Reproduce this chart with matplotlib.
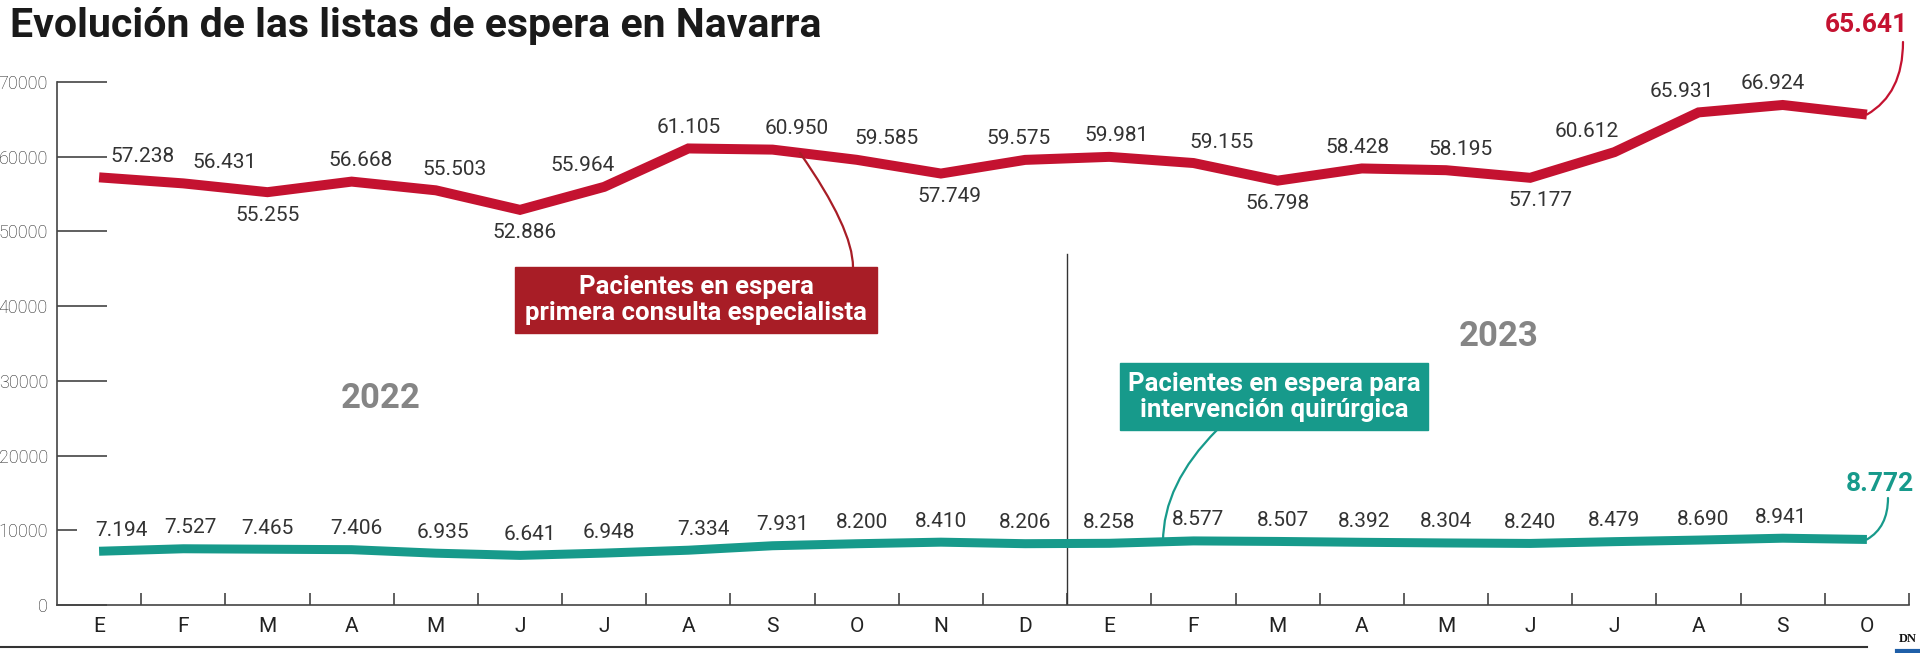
import numpy as np
import matplotlib.pyplot as plt
from matplotlib.lines import Line2D
from matplotlib.patches import Rectangle

# data
months = ["E", "F", "M", "A", "M", "J", "J", "A", "S", "O", "N", "D",
          "E", "F", "M", "A", "M", "J", "J", "A", "S", "O"]
consulta = [57238, 56431, 55255, 56668, 55503, 52886, 55964, 61105, 60950, 59585, 57749, 59575,
            59981, 59155, 56798, 58428, 58195, 57177, 60612, 65931, 66924, 65641]
quirurgica = [7194, 7527, 7465, 7406, 6935, 6641, 6948, 7334, 7931, 8200, 8410, 8206,
              8258, 8577, 8507, 8392, 8304, 8240, 8479, 8690, 8941, 8772]
yticks = [0, 10000, 20000, 30000, 40000, 50000, 60000, 70000]
years = ["2022", "2023"]

# label placement (pixel offsets, by hand)
red_below = [2, 5, 10, 14, 17]
red_dx = [43, 41, 0, 9, 19, 4, -22, 0, 24, 30, 9, -7, 7, 28, 0, -4, 15, 10, -28, -17, -10]
teal_dx = [22, 7, 0, 5, 7, 10, 5, 15, 10, 5, 0, 0, 0, 5, 5, 2, 0, 0, 0, 5, -2]

RED = "#c41230"
RED_BOX = "#a81d26"
TEAL = "#179a8b"
NARROW = ["Liberation Sans Narrow", "Roboto"]
W, H = 1920, 653

def fmt(v):
    return f"{v:,}".replace(",", ".")

def px(v):
    # pixels -> points at dpi 100
    return v * 72 / 100

fig = plt.figure(figsize=(19.2, 6.53), dpi=100)
ax = fig.add_axes([57 / W, 48 / H, 1852 / W, 523 / H])

x = np.arange(len(months))
ax.plot(x, consulta, color=RED, lw=px(10), solid_joinstyle="miter", solid_capstyle="butt", zorder=3)
ax.plot(x, quirurgica, color=TEAL, lw=px(9), solid_joinstyle="round", solid_capstyle="butt", zorder=3)

ax.set_xlim(-0.5, 21.5)
ax.set_ylim(0, 70000)
for s in ["top", "right"]:
    ax.spines[s].set_visible(False)
for s in ["left", "bottom"]:
    ax.spines[s].set_color("#444")
    ax.spines[s].set_linewidth(1.2)

ax.set_yticks(yticks)
ax.set_yticklabels([str(t) for t in yticks], fontsize=13, color="#222", fontweight="light", family="Roboto")
ax.tick_params(axis="y", direction="in", length=px(50), width=1.2, color="#444", pad=px(9))
# the 10000 tick is cut short to leave room for the first label
ax.yaxis.get_major_ticks()[1].tick1line.set_markersize(px(20))

ax.set_xticks(x)
ax.set_xticklabels(months, fontsize=15, color="#222", family="Roboto")
ax.tick_params(axis="x", which="major", length=0, pad=px(12))
ax.set_xticks(list(x[:-1] + 0.5) + [21.5], minor=True)
ax.tick_params(axis="x", which="minor", direction="in", length=px(12), width=1.2, color="#444")

# value labels
for i, v in enumerate(consulta[:-1]):
    dy = -23 if i in red_below else 21
    ax.annotate(fmt(v), (i, v), xytext=(px(red_dx[i]), px(dy)), textcoords="offset points",
                ha="center", va="center", fontsize=15, color="#333", family="Roboto")
for i, v in enumerate(quirurgica[:-1]):
    ax.annotate(fmt(v), (i, v), xytext=(px(teal_dx[i]), px(21)), textcoords="offset points",
                ha="center", va="center", fontsize=15, color="#333", family="Roboto")

# end labels with connectors
ax.text(1866, H - 25, fmt(consulta[-1]), transform=None, ha="center", va="center",
        fontsize=19, fontweight="bold", color=RED, family=NARROW)
ax.annotate("", (21, consulta[-1]), xytext=(1903, H - 42), textcoords="figure pixels",
            arrowprops=dict(arrowstyle="-", color=RED, lw=1.6,
                            connectionstyle="angle3,angleA=90,angleB=30", shrinkA=0, shrinkB=0),
            annotation_clip=False)
ax.text(1880, H - 484, fmt(quirurgica[-1]), transform=None, ha="center", va="center",
        fontsize=19, fontweight="bold", color=TEAL, family=NARROW)
ax.annotate("", (21, quirurgica[-1]), xytext=(1888, H - 498), textcoords="figure pixels",
            arrowprops=dict(arrowstyle="-", color=TEAL, lw=1.6,
                            connectionstyle="angle3,angleA=90,angleB=30", shrinkA=0, shrinkB=0),
            annotation_clip=False)

# series boxes
fig.add_artist(Rectangle((515 / W, (H - 333) / H), 362 / W, 66 / H, transform=fig.transFigure,
                         color=RED_BOX, zorder=5))
fig.text(696 / W, (H - 300) / H, "Pacientes en espera\nprimera consulta especialista",
         ha="center", va="center", fontsize=18.5, fontweight="bold", color="white",
         family=NARROW, linespacing=1.1, zorder=6)
ax.annotate("", (800, H - 153), xycoords="figure pixels", xytext=(853, H - 267), textcoords="figure pixels",
            arrowprops=dict(arrowstyle="-", color=RED_BOX, lw=1.6,
                            connectionstyle="angle3,angleA=90,angleB=-55", shrinkA=0, shrinkB=0),
            annotation_clip=False)

fig.add_artist(Rectangle((1120 / W, (H - 430) / H), 308 / W, 67 / H, transform=fig.transFigure,
                         color=TEAL, zorder=5))
fig.text(1274 / W, (H - 397) / H, "Pacientes en espera para\nintervención quirúrgica",
         ha="center", va="center", fontsize=18.5, fontweight="bold", color="white",
         family=NARROW, linespacing=1.1, zorder=6)
ax.annotate("", (1163, H - 542), xycoords="figure pixels", xytext=(1217, H - 430), textcoords="figure pixels",
            arrowprops=dict(arrowstyle="-", color=TEAL, lw=1.6,
                            connectionstyle="angle3,angleA=45,angleB=90", shrinkA=0, shrinkB=0),
            annotation_clip=False)

# year split
ax.plot([11.5, 11.5], [0, 47000], color="#333", lw=1, zorder=2)
ax.text(3.35, 27700, years[0], ha="center", va="center", fontsize=25, fontweight="bold",
        color="#858585", family=NARROW)
ax.text(16.63, 35900, years[1], ha="center", va="center", fontsize=25, fontweight="bold",
        color="#858585", family=NARROW)

# title and footer
fig.text(10 / W, (H - 37) / H, "Evolución de las listas de espera en Navarra", ha="left", va="baseline",
         fontsize=29.5, fontweight="bold", color="#1a1a1a", family=NARROW)
fig.add_artist(Line2D([0, 1867 / W], [(H - 647) / H] * 2, transform=fig.transFigure, color="#333", lw=1.5))
fig.add_artist(Line2D([1897 / W, 1], [(H - 651) / H] * 2, transform=fig.transFigure, color="#1f5fa8", lw=3))
fig.text(1908 / W, (H - 639) / H, "DN", ha="center", va="center", fontsize=9, fontweight="bold",
         color="#111", family="Liberation Serif")

fig.savefig("out.png", dpi=100)
